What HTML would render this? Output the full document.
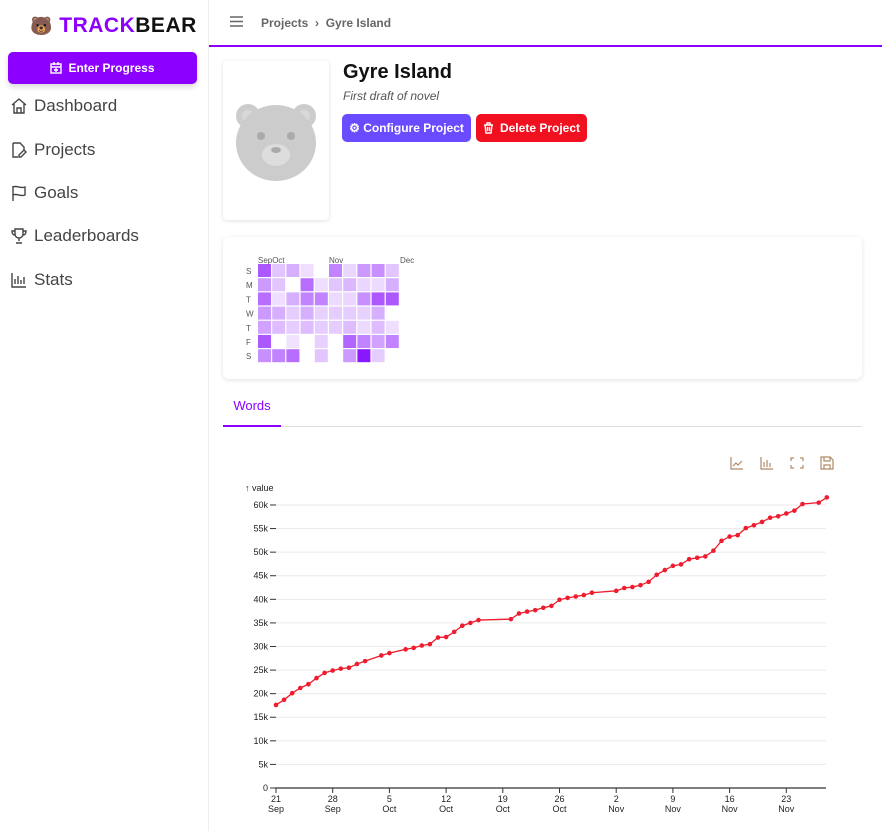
<!DOCTYPE html>
<html><head><meta charset="utf-8">
<style>
*{box-sizing:border-box;margin:0;padding:0}
body{width:882px;height:831px;overflow:hidden;background:#fff;font-family:"Liberation Sans",sans-serif;color:#333;position:relative}
.abs{position:absolute}
.nav{position:absolute;left:10px;font-size:17px;color:#444;display:flex;align-items:center;gap:6px}
.nav svg{width:18px;height:18px}
.btn{position:absolute;border-radius:5px;color:#fff;font-weight:bold;font-size:12px;display:flex;align-items:center;justify-content:center;gap:6px}
</style></head><body>
<div class="abs" style="left:0;top:0;width:209px;height:831px;border-right:1px solid #eee"></div>
<div class="abs" style="left:30px;top:14px;font-size:21px;font-weight:bold;letter-spacing:0.5px"><span style="font-size:18px">🐻</span> <span style="color:#8b00ff">TRACK</span><span style="color:#111">BEAR</span></div>
<div class="btn" style="left:8px;top:52px;width:189px;height:32px;background:#8b00ff;box-shadow:0 3px 6px rgba(0,0,0,.15)"><svg width="12" height="12" fill="none" stroke="#fff" stroke-width="1.4"><rect x="1" y="2" width="10" height="9"/><path d="M1 5h10M4 0v3M8 0v3M6 6v4M4 8h4"/></svg>Enter Progress</div>
<div class="nav" style="top:96px"><svg viewBox="0 0 18 18" fill="none" stroke="#444" stroke-width="1.4"><path d="M2 8L9 2l7 6M4 7v9h10V7M7 16v-5h4v5"/></svg>Dashboard</div>
<div class="nav" style="top:140px"><svg viewBox="0 0 18 18" fill="none" stroke="#444" stroke-width="1.4"><path d="M3 2h7l4 4v3M3 2v14h5M11 16l5-5-2-2-5 5v2z"/></svg>Projects</div>
<div class="nav" style="top:183px"><svg viewBox="0 0 18 18" fill="none" stroke="#444" stroke-width="1.4"><path d="M3 17V2M3 3c4-2 7 2 12 0v8c-5 2-8-2-12 0"/></svg>Goals</div>
<div class="nav" style="top:226px"><svg viewBox="0 0 18 18" fill="none" stroke="#444" stroke-width="1.4"><path d="M5 2h8v5a4 4 0 0 1-8 0zM5 4H2c0 3 1 4 3 4M13 4h3c0 3-1 4-3 4M9 11v3M6 16h6"/></svg>Leaderboards</div>
<div class="nav" style="top:270px"><svg viewBox="0 0 18 18" fill="none" stroke="#444" stroke-width="1.4"><path d="M2 2v14h14M5 13V8M8 13V5M11 13V9M14 13V6"/></svg>Stats</div>

<svg class="abs" style="left:230px;top:16px" width="13" height="11" stroke="#666" stroke-width="1.5"><path d="M0 1h13M0 5.5h13M0 10h13"/></svg>
<div class="abs" style="left:261px;top:16px;font-size:12px;font-weight:bold;color:#666"><span>Projects</span> &nbsp;›&nbsp; <span>Gyre Island</span></div>
<div class="abs" style="left:209px;top:45px;width:673px;height:2px;background:#8b00ff"></div>

<div class="abs" style="left:223px;top:61px;width:106px;height:159px;border-radius:4px;box-shadow:0 1px 4px rgba(0,0,0,.12)">
<svg width="106" height="159" viewBox="0 0 106 159"><circle cx="25" cy="55" r="12" fill="#ccc"/><circle cx="81" cy="55" r="12" fill="#ccc"/><circle cx="25" cy="55" r="6" fill="#d8d8d8"/><circle cx="81" cy="55" r="6" fill="#d8d8d8"/><ellipse cx="53" cy="82" rx="40" ry="38" fill="#ccc"/><circle cx="38" cy="75" r="4" fill="#aaa"/><circle cx="68" cy="75" r="4" fill="#aaa"/><ellipse cx="53" cy="94" rx="14" ry="11" fill="#ddd"/><ellipse cx="53" cy="89" rx="5" ry="3" fill="#aaa"/></svg></div>
<div class="abs" style="left:343px;top:61px;font-size:20px;font-weight:bold;color:#111">Gyre Island</div>
<div class="abs" style="left:343px;top:89px;font-size:12px;font-style:italic;color:#555">First draft of novel</div>
<div class="btn" style="left:342px;top:114px;width:129px;height:28px;background:#6b4bff">⚙ Configure Project</div>
<div class="btn" style="left:476px;top:114px;width:111px;height:28px;background:#f0101f"><svg width="11" height="12" fill="none" stroke="#fff" stroke-width="1.4"><path d="M1 3h9M4 3V1h3v2M2 3l1 8h5l1-8M4.5 5v4M6.5 5v4"/></svg>Delete Project</div>

<div class="abs" style="left:223px;top:237px;width:639px;height:142px;border-radius:6px;box-shadow:0 1px 5px rgba(0,0,0,.12)">
<svg id="heat" width="639" height="142"></svg></div>

<div class="abs" style="left:223px;top:398px;width:58px;height:29px;text-align:center;font-size:13px;color:#8b00ff;border-bottom:2px solid #8b00ff">Words</div>
<div class="abs" style="left:281px;top:426px;width:581px;height:1px;background:#ddd"></div>

<div class="abs" style="left:728px;top:455px">
<svg width="110" height="16" fill="none" stroke="#b08a66" stroke-width="1.2">
<g><path d="M3 2v12h12M5 11l3-3 2 2 4-4"/></g>
<g><path d="M33 2v12h12M36 12V7M39 12V5M42 12V8"/></g>
<g><path d="M63 6V3h3M72 3h3v3M75 10v3h-3M66 13h-3v-3"/></g>
<g><path d="M93 2h9l3 3v9H93zM96 2v4h6V2M96 14v-4h6v4"/></g>
</svg></div>

<svg id="chart" class="abs" style="left:0;top:470px" width="882" height="361"></svg>

<script>
// heatmap data (intensity 0-5), rows S..S, columns weeks
const heatDays=["S","M","T","W","T","F","S"];
const heatMonths=[["Sep",0],["Oct",1],["Nov",5],["Dec",10]];
const heatValues=[
[3.5,1,1.5,0.4,0,2.5,0.6,2,2.2,1],
[2,1,0,3,0.4,1,1.3,0.6,0.5,1.5],
[3,0.4,1.5,2.5,2.5,0.5,0.6,2.2,3.5,3.5],
[2,1.5,0.8,1.5,0.7,0.8,0.8,0.7,1.5,0],
[1.8,1.2,0.8,1.2,0.8,0.8,1.2,0.5,1.2,0.4],
[3.5,0,0.3,0,0.7,0,3.2,2.5,1.8,2.5],
[2.2,2.5,3,0,1,0,2,5,0.8,0]];
// line data: day offset from 21 Sep, words in thousands
const dayOffsets=[0,1,2,3,4,5,6,7,8,9,10,11,13,14,16,17,18,19,20,21,22,23,24,25,29,30,31,32,33,34,35,36,37,38,39,42,43,44,45,46,47,48,49,50,51,52,53,54,55,56,57,58,59,60,61,62,63,64,65,67,68];
const wordValues=[17.6,18.7,20.1,21.2,22.0,23.3,24.4,24.9,25.3,25.5,26.3,26.9,28.1,28.6,29.4,29.7,30.2,30.5,31.9,32.0,33.1,34.4,35.0,35.6,35.8,37.0,37.4,37.7,38.2,38.6,39.9,40.3,40.6,40.9,41.4,41.8,42.4,42.6,43.0,43.7,45.2,46.2,47.1,47.4,48.5,48.8,49.1,50.3,52.4,53.3,53.6,55.1,55.7,56.4,57.3,57.6,58.2,58.8,60.2,60.5,61.6];
const yTicks=[0,5,10,15,20,25,30,35,40,45,50,55,60];
const xTickDays=[0,7,14,21,28,35,42,49,56,63];
const xTickLabels=[["21","Sep"],["28","Sep"],["5","Oct"],["12","Oct"],["19","Oct"],["26","Oct"],["2","Nov"],["9","Nov"],["16","Nov"],["23","Nov"]];

const NS="http://www.w3.org/2000/svg";
function mk(p,t,a){const e=document.createElementNS(NS,t);for(const k in a)e.setAttribute(k,a[k]);p.appendChild(e);return e;}

const heat=document.getElementById('heat');
heatMonths.forEach(m=>{const t=mk(heat,'text',{x:35+m[1]*14.2,y:26,'font-size':8,fill:'#555'});t.textContent=m[0];

});
heatDays.forEach((d,r)=>{const t=mk(heat,'text',{x:23,y:37+r*14.2,'font-size':8,fill:'#555'});t.textContent=d;

});
heatValues.forEach((row,r)=>row.forEach((v,c)=>{if(v<=0)return;
const e=mk(heat,'rect',{x:35+c*14.2,y:27+r*14.2,width:13,height:13,fill:'rgb(128,0,255)','fill-opacity':Math.min(1,0.06+v*0.17)});

}));

const ch=document.getElementById('chart');
const X0=276,PXD=8.1,Y0=318,PYK=4.717;
const xs=d=>X0+d*PXD, ys=v=>Y0-v*PYK;
let t=mk(ch,'text',{x:245,y:21,'font-size':9,fill:'#222'});t.textContent='↑ value';


yTicks.forEach(v=>{const y=ys(v);
if(v>0){const g=mk(ch,'line',{x1:276,x2:826,y1:y,y2:y,stroke:'#eaeaea'});

}
mk(ch,'line',{x1:270,x2:276,y1:y,y2:y,stroke:'#333'});
const l=mk(ch,'text',{x:268,y:y+3,'font-size':9,fill:'#222','text-anchor':'end'});l.textContent=v?v+'k':'0';

});
const ax=mk(ch,'line',{x1:275,x2:826,y1:Y0,y2:Y0,stroke:'#333','stroke-width':1.2});


xTickDays.forEach((d,i)=>{const x=xs(d);mk(ch,'line',{x1:x,x2:x,y1:Y0,y2:Y0+5,stroke:'#333'});
[0,1].forEach(j=>{const l=mk(ch,'text',{x:x,y:Y0+14+j*10,'font-size':9,fill:'#222','text-anchor':'middle'});l.textContent=xTickLabels[i][j];

});});
const pl=mk(ch,'polyline',{points:dayOffsets.map((d,i)=>xs(d)+','+ys(wordValues[i])).join(' '),fill:'none',stroke:'#ee1c2e','stroke-width':1.3});


dayOffsets.forEach((d,i)=>{const c=mk(ch,'circle',{cx:xs(d),cy:ys(wordValues[i]),r:2.3,fill:'#ee1c2e'});

});
</script>
</body></html>
